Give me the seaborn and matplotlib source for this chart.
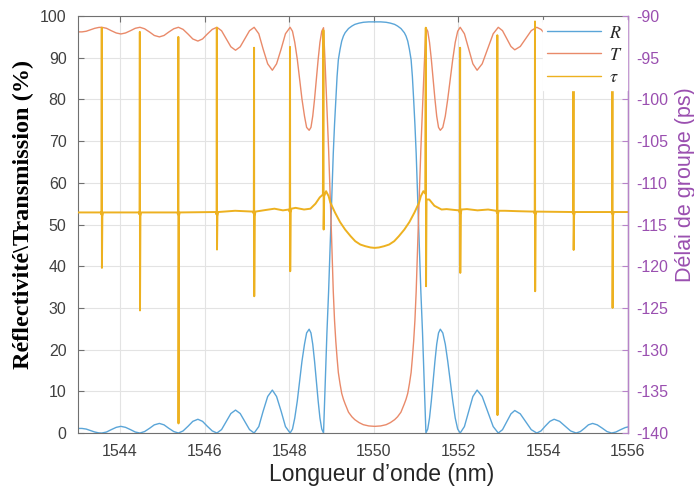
import numpy as np
import matplotlib
matplotlib.use("Agg")
import matplotlib.pyplot as plt
import seaborn as sns

# Reflectivity R (%)
wl_R = [1543.00, 1543.10, 1543.20, 1543.30, 1543.40, 1543.50, 1543.57,
        1543.68, 1543.79, 1543.91, 1544.02, 1544.13, 1544.25, 1544.36, 1544.47,
        1544.58, 1544.70, 1544.81, 1544.93, 1545.04, 1545.15, 1545.27, 1545.38,
        1545.49, 1545.61, 1545.72, 1545.84, 1545.95, 1546.06, 1546.18, 1546.29,
        1546.40, 1546.51, 1546.62, 1546.73, 1546.84, 1546.95, 1547.06, 1547.17,
        1547.28, 1547.38, 1547.49, 1547.60, 1547.70, 1547.81, 1547.91, 1548.02,
        1548.076, 1548.13, 1548.19, 1548.245, 1548.30, 1548.36, 1548.41, 1548.47,
        1548.513, 1548.555, 1548.598, 1548.64, 1548.683, 1548.725, 1548.768, 1548.81,
        1548.85, 1548.89, 1548.93, 1548.97, 1549.00, 1549.04, 1549.07, 1549.10,
        1549.13, 1549.16, 1549.20, 1549.24, 1549.28, 1549.32, 1549.40, 1549.48,
        1549.55, 1549.65, 1549.75, 1549.88, 1550.02,
        1550.16, 1550.29, 1550.39, 1550.49, 1550.56, 1550.64, 1550.72, 1550.76,
        1550.80, 1550.84, 1550.88, 1550.91, 1550.94, 1550.97, 1551.00, 1551.04,
        1551.07, 1551.11, 1551.15, 1551.19, 1551.23,
        1551.273, 1551.315, 1551.358, 1551.40, 1551.443, 1551.485, 1551.528, 1551.57,
        1551.629, 1551.688, 1551.746, 1551.805, 1551.864, 1551.923, 1551.981, 1552.04,
        1552.14, 1552.24, 1552.34, 1552.44, 1552.56, 1552.69, 1552.82, 1552.94,
        1553.04, 1553.14, 1553.24, 1553.33, 1553.46, 1553.59, 1553.72, 1553.85,
        1553.95, 1554.05, 1554.16, 1554.26, 1554.39, 1554.52, 1554.65, 1554.78,
        1554.88, 1554.98, 1555.07, 1555.17, 1555.28, 1555.40, 1555.51, 1555.62,
        1555.72, 1555.83, 1555.94, 1556.00]
R = [1.1, 1.1, 0.95, 0.6, 0.25, 0.03, 0.0,
     0.24, 0.8, 1.36, 1.6, 1.36, 0.8, 0.24, 0.0,
     0.35, 1.15, 1.96, 2.3, 1.96, 1.15, 0.35, 0.0,
     0.5, 1.65, 2.8, 3.3, 2.8, 1.65, 0.5, 0.0,
     0.83, 2.75, 4.68, 5.5, 4.68, 2.75, 0.83, 0.0,
     1.55, 5.15, 8.76, 10.3, 8.76, 5.15, 1.55, 0.0,
     0.95, 3.6, 7.7, 12.45, 17.2, 21.3, 24.0, 24.9,
     24.0, 21.3, 17.2, 12.45, 7.7, 3.6, 0.95, 0.0,
     12.0, 24.0, 34.0, 46.0, 55.0, 67.0, 74.0, 80.0,
     85.5, 89.5, 92.0, 94.0, 95.2, 96.0, 97.0, 97.6,
     98.0, 98.3, 98.5, 98.6, 98.6,
     98.6, 98.5, 98.3, 98.0, 97.6, 97.0, 96.0, 95.2,
     94.0, 92.0, 89.5, 85.5, 80.0, 74.0, 67.0, 55.0,
     46.0, 34.0, 24.0, 12.0, 0.0,
     0.95, 3.6, 7.7, 12.45, 17.2, 21.3, 24.0, 24.9,
     24.0, 21.3, 17.2, 12.45, 7.7, 3.6, 0.95, 0.0,
     1.55, 5.15, 8.76, 10.3, 8.76, 5.15, 1.55, 0.0,
     0.8, 2.7, 4.6, 5.4, 4.6, 2.7, 0.8, 0.0,
     0.5, 1.65, 2.8, 3.3, 2.8, 1.65, 0.5, 0.0,
     0.35, 1.15, 1.96, 2.3, 1.96, 1.15, 0.35, 0.0,
     0.24, 0.8, 1.3, 1.45]

# Transmission T (%) read on the same wavelengths
T = [96.2, 96.2, 96.35, 96.7, 97.05, 97.27, 97.3,
     97.06, 96.5, 95.94, 95.7, 95.94, 96.5, 97.06, 97.3,
     96.95, 96.15, 95.34, 95.0, 95.34, 96.15, 96.95, 97.3,
     96.8, 95.65, 94.5, 94.0, 94.5, 95.65, 96.8, 97.3,
     96.47, 94.55, 92.62, 91.8, 92.62, 94.55, 96.47, 97.3,
     95.75, 92.15, 88.54, 87.0, 88.54, 92.15, 95.75, 97.3,
     96.35, 93.7, 89.6, 84.85, 80.1, 76.0, 73.3, 72.6,
     73.3, 76.0, 80.1, 84.85, 89.6, 93.7, 96.35, 97.2,
     88.0, 78.0, 68.0, 56.0, 47.0, 34.0, 27.0, 22.0,
     18.0, 14.5, 11.8, 9.5, 8.1, 7.0, 5.0, 3.9,
     3.2, 2.5, 2.0, 1.7, 1.6,
     1.7, 2.0, 2.5, 3.2, 3.9, 5.0, 7.0, 8.1,
     9.5, 11.8, 14.5, 18.0, 22.0, 27.0, 34.0, 47.0,
     56.0, 68.0, 78.0, 88.0, 97.2,
     96.35, 93.7, 89.6, 84.85, 80.1, 76.0, 73.3, 72.6,
     73.3, 76.0, 80.1, 84.85, 89.6, 93.7, 96.35, 97.3,
     95.75, 92.15, 88.54, 87.0, 88.54, 92.15, 95.75, 97.3,
     96.5, 94.6, 92.7, 91.9, 92.7, 94.6, 96.5, 97.3,
     96.8, 95.65, 94.5, 94.0, 94.5, 95.65, 96.8, 97.3,
     96.95, 96.15, 95.34, 95.0, 95.34, 96.15, 96.95, 97.3,
     97.06, 96.5, 96.0, 95.85]

# Group delay tau (ps)
wl_tau = [1543.00, 1543.54, 1543.562, 1543.568, 1543.572, 1543.582, 1543.60,
          1544.44, 1544.462, 1544.468, 1544.472, 1544.482, 1544.50,
          1545.35, 1545.372, 1545.378, 1545.382, 1545.392, 1545.41,
          1546.26, 1546.282, 1546.288, 1546.292, 1546.302, 1546.32,
          1546.72, 1547.14, 1547.162, 1547.168, 1547.172, 1547.182, 1547.20,
          1547.45, 1547.65, 1547.85, 1547.99, 1548.012, 1548.018, 1548.022, 1548.032,
          1548.05, 1548.15, 1548.35, 1548.50, 1548.62, 1548.72,
          1548.795, 1548.807, 1548.813, 1548.825, 1548.87, 1548.93, 1548.97,
          1549.08, 1549.20, 1549.32, 1549.45, 1549.56, 1549.68, 1549.80, 1549.92,
          1550.02, 1550.12, 1550.24, 1550.36, 1550.48, 1550.59, 1550.72, 1550.84,
          1550.96, 1551.07, 1551.11, 1551.17, 1551.215, 1551.227, 1551.233, 1551.245,
          1551.31, 1551.43, 1551.60, 1551.72, 1551.90,
          1552.01, 1552.032, 1552.038, 1552.042, 1552.052, 1552.07,
          1552.20, 1552.45, 1552.70, 1552.89, 1552.912, 1552.918, 1552.922, 1552.932,
          1552.95, 1553.10, 1553.40, 1553.78, 1553.802, 1553.808, 1553.812, 1553.822,
          1553.84, 1554.69, 1554.712, 1554.718, 1554.722, 1554.732, 1554.75,
          1555.61, 1555.632, 1555.638, 1555.642, 1555.652, 1555.67, 1556.00]
tau = [-113.55, -113.55, -113.8, -91.4, -120.2, -114.0, -113.55,
       -113.55, -113.8, -91.9, -125.3, -114.0, -113.55,
       -113.55, -113.8, -92.5, -138.85, -114.0, -113.55,
       -113.5, -113.8, -91.4, -118.0, -114.0, -113.5,
       -113.35, -113.45, -113.7, -93.8, -123.6, -114.0, -113.45,
       -113.25, -113.1, -113.3, -113.2, -113.5, -93.7, -120.6, -113.6,
       -113.1, -113.0, -113.2, -113.1, -112.5, -111.75,
       -111.4, -91.7, -115.6, -111.6, -111.0, -111.6, -112.35,
       -113.55, -114.7, -115.6, -116.4, -117.0, -117.4, -117.6, -117.75,
       -117.8, -117.75, -117.6, -117.4, -117.0, -116.4, -115.6, -114.7,
       -113.55, -112.35, -111.6, -111.0, -111.3, -91.4, -122.4, -112.0,
       -112.0, -112.75, -113.2, -113.15, -113.25,
       -113.3, -113.6, -93.8, -120.8, -113.8, -113.2,
       -113.15, -113.3, -113.2, -113.35, -113.6, -92.3, -137.85, -113.8,
       -113.35, -113.35, -113.4, -113.45, -113.7, -90.65, -123.0, -113.9,
       -113.45, -113.5, -113.7, -98.5, -118.05, -113.9, -113.5,
       -113.5, -113.7, -98.5, -125.0, -113.9, -113.5, -113.5]

x_ticks = [1544, 1546, 1548, 1550, 1552, 1554, 1556]
left_ticks = list(range(0, 101, 10))
right_ticks = list(range(-140, -89, 5))

sns.set_style("white")
plt.rcParams["font.family"] = ["Liberation Sans", "DejaVu Sans"]
plt.rcParams["mathtext.fontset"] = "stix"
plt.rcParams["axes.unicode_minus"] = False

blue = "#5aa5d8"
orange = "#e98a6a"
yellow = "#EDB120"
purple = "#9a4fb0"
purple_axis = "#b784c9"
gray = "#404040"

fig = plt.figure(figsize=(6.94, 4.86), dpi=100)
ax = fig.add_axes([0.112, 0.109, 0.7925, 0.858])

sns.lineplot(x=wl_R, y=R, ax=ax, color=blue, lw=1.0, label="$R$", estimator=None, sort=False)
sns.lineplot(x=wl_R, y=T, ax=ax, color=orange, lw=1.0, label="$T$", estimator=None, sort=False)
ax.set_xlim(1543, 1556)
ax.set_ylim(0, 100)
ax.set_xticks(x_ticks)
ax.set_yticks(left_ticks)
ax.grid(True, color="#e3e3e3", lw=0.8)
ax.set_axisbelow(True)
ax.tick_params(axis="both", direction="in", length=4, width=0.8, colors="#707070",
               labelcolor=gray, labelsize=11.5)
ax.tick_params(axis="x", top=True, pad=8)
ax.tick_params(axis="y", pad=8)
for s in ["left", "bottom", "top"]:
    ax.spines[s].set_color("#707070")
    ax.spines[s].set_linewidth(0.8)
ax.set_xlabel("Longueur d\u2019onde (nm)", fontsize=16.5, color="#262626")
ax.xaxis.set_label_coords(0.552, -0.072)
ax.set_ylabel("Réflectivité\\Transmission (%)", fontsize=17.5, fontweight="bold",
              family="Liberation Serif", color="black")
ax.yaxis.set_label_coords(-0.08, 0.525)

ax2 = ax.twinx()
sns.lineplot(x=wl_tau, y=tau, ax=ax2, color=yellow, lw=1.4, label=r"$\tau$", estimator=None, sort=False)
ax2.set_ylim(-140, -90)
ax2.set_yticks(right_ticks)
ax2.grid(False)
ax2.tick_params(axis="y", direction="in", length=4, width=0.8, colors=purple_axis,
                labelcolor=purple, labelsize=11.5, pad=6)
ax2.spines["right"].set_color(purple_axis)
ax2.spines["right"].set_linewidth(1.0)
for s in ["left", "bottom", "top"]:
    ax2.spines[s].set_visible(False)
ax2.set_ylabel("")
fig.text(685 / 694, 1 - 185 / 486, "Délai de groupe (ps)", rotation=90, color=purple,
         fontsize=15.5, ha="center", va="center")

h1, l1 = ax.get_legend_handles_labels()
h2, l2 = ax2.get_legend_handles_labels()
ax.get_legend().remove()
leg = ax2.legend(h1 + h2, l1 + l2, loc="upper right", bbox_to_anchor=(0.998, 0.99),
                 borderaxespad=0, fontsize=13, handlelength=3.0, labelspacing=0.28,
                 frameon=True, fancybox=False, framealpha=1, edgecolor="white",
                 facecolor="white", handletextpad=0.4, borderpad=0.25)
for line in leg.get_lines():
    line.set_linewidth(1.0)

fig.savefig("out.png", dpi=100)
